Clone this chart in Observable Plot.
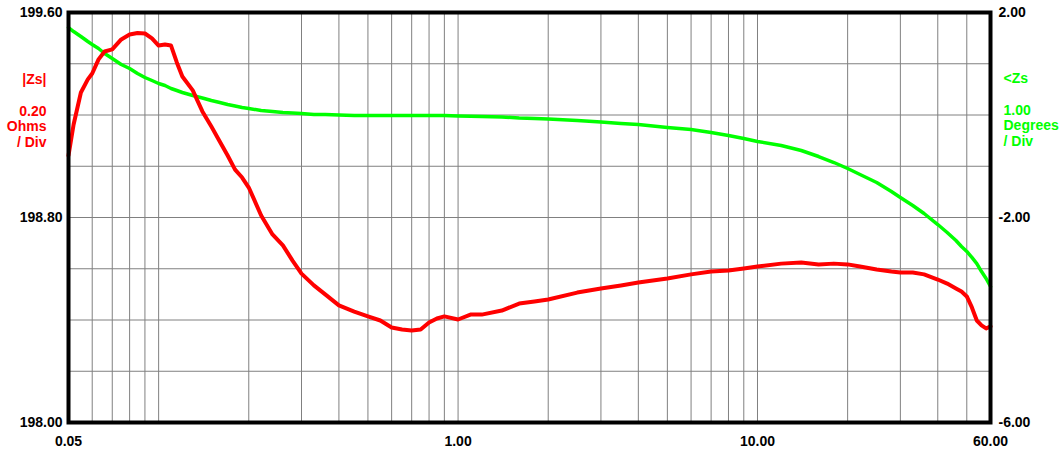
<!DOCTYPE html>
<html>
<head>
<meta charset="utf-8">
<script src="https://cdn.jsdelivr.net/npm/d3@7"></script>
<script src="https://cdn.jsdelivr.net/npm/@observablehq/plot@0.6"></script>
<style>
  html, body { margin: 0; padding: 0; background: #fff; }
  svg { display: block; }
</style>
</head>
<body>
<div id="chart"></div>
<script>
// Frequency points (Hz-axis units as labelled), shared by both traces
const freq = [
  0.05, 0.052, 0.055, 0.058, 0.06, 0.063, 0.066, 0.07, 0.075, 0.08,
  0.085, 0.09, 0.095, 0.1, 0.105, 0.11, 0.115, 0.12, 0.13, 0.14,
  0.15, 0.16, 0.17, 0.18, 0.19, 0.2, 0.22, 0.24, 0.26, 0.28,
  0.3, 0.33, 0.36, 0.4, 0.45, 0.5, 0.55, 0.6, 0.65, 0.7,
  0.75, 0.8, 0.85, 0.9, 1.0, 1.1, 1.2, 1.4, 1.6, 1.8,
  2, 2.5, 3, 3.5, 4, 5, 6, 7, 8, 9,
  10, 12, 14, 16, 18, 20, 22, 25, 28, 30,
  33, 36, 40, 43, 46, 48, 50, 52, 54, 56,
  58, 60
];

// |Zs| magnitude, ohms (left axis)
const zsMag = [
  199.042, 199.163, 199.288, 199.339, 199.362, 199.417, 199.448, 199.456, 199.495, 199.514,
  199.520, 199.518, 199.499, 199.471, 199.475, 199.471, 199.405, 199.350, 199.296, 199.214,
  199.155, 199.097, 199.042, 198.987, 198.956, 198.917, 198.808, 198.734, 198.691, 198.632,
  198.581, 198.535, 198.500, 198.457, 198.433, 198.414, 198.398, 198.371, 198.363, 198.359,
  198.363, 198.390, 198.406, 198.414, 198.402, 198.421, 198.421, 198.437, 198.464, 198.472,
  198.480, 198.507, 198.523, 198.535, 198.546, 198.562, 198.578, 198.589, 198.593, 198.601,
  198.609, 198.620, 198.624, 198.617, 198.620, 198.617, 198.609, 198.597, 198.589, 198.585,
  198.585, 198.578, 198.558, 198.542, 198.523, 198.511, 198.492, 198.449, 198.398, 198.379,
  198.367, 198.375
];

// <Zs phase, degrees (right axis)
const zsPhase = [
  1.707, 1.629, 1.532, 1.434, 1.376, 1.298, 1.200, 1.102, 0.985, 0.907,
  0.810, 0.732, 0.673, 0.615, 0.576, 0.517, 0.478, 0.439, 0.380, 0.332,
  0.283, 0.244, 0.205, 0.176, 0.146, 0.127, 0.088, 0.068, 0.049, 0.039,
  0.029, 0.010, 0.010, 0.000, -0.010, -0.010, -0.010, -0.010, -0.010, -0.010,
  -0.010, -0.010, -0.010, -0.010, -0.020, -0.025, -0.029, -0.039, -0.059, -0.068,
  -0.078, -0.107, -0.137, -0.166, -0.185, -0.244, -0.283, -0.341, -0.400, -0.459,
  -0.517, -0.595, -0.693, -0.810, -0.927, -1.044, -1.161, -1.317, -1.493, -1.610,
  -1.766, -1.922, -2.137, -2.293, -2.449, -2.566, -2.663, -2.780, -2.898, -3.054,
  -3.190, -3.346
];

// Axis extents and labelled ticks
const magDomain = [198.0, 199.6];
const phaseDomain = [-6, 2];
const freqDomain = [0.05, 60];
const magTicks = [198.0, 198.8, 199.6];
const phaseTicks = [-6, -2, 2];
const freqTicks = [0.05, 1, 10, 60];

// Grid: every 0.20 ohm, and every log-decade minor step
const magGrid = [198.2, 198.4, 198.6, 198.8, 199.0, 199.2, 199.4];
const freqGrid = [
  0.06, 0.07, 0.08, 0.09, 0.1, 0.2, 0.3, 0.4, 0.5, 0.6, 0.7, 0.8, 0.9,
  1, 2, 3, 4, 5, 6, 7, 8, 9, 10, 20, 30, 40, 50
];

const magLabel = "|Zs|\n\n0.20\nOhms\n/ Div";
const phaseLabel = "<Zs\n\n1.00\nDegrees\n/ Div";

// Phase shares the plot's y scale: map degrees onto the ohm range
const phaseToMag = d =>
  magDomain[0] + (d - phaseDomain[0]) / (phaseDomain[1] - phaseDomain[0]) * (magDomain[1] - magDomain[0]);

const rows = freq.map((f, i) => ({f, mag: zsMag[i], phase: zsPhase[i]}));

const RED = "#ff0000";
const GREEN = "#00ff00";
const GRID = "#808080";
const font = {fontSize: 14, fontWeight: "bold"};

const chart = Plot.plot({
  width: 1062,
  height: 454,
  marginLeft: 68,
  marginRight: 72,
  marginTop: 12,
  marginBottom: 32,
  style: {fontFamily: "'Liberation Sans', Arial, sans-serif", background: "#fff", overflow: "visible"},
  x: {type: "log", domain: freqDomain, axis: null},
  y: {domain: magDomain, axis: null},
  marks: [
    Plot.ruleX(freqGrid, {stroke: GRID, strokeWidth: 1, strokeOpacity: 1}),
    Plot.ruleY(magGrid, {stroke: GRID, strokeWidth: 1, strokeOpacity: 1}),
    Plot.line(rows, {x: "f", y: d => phaseToMag(d.phase), stroke: GREEN, strokeWidth: 3.5}),
    Plot.line(rows, {x: "f", y: "mag", stroke: RED, strokeWidth: 4}),
    Plot.frame({stroke: "#000", strokeWidth: 4}),
    // left scale labels (ohms)
    Plot.text(magTicks, {
      y: d => d, frameAnchor: "left", dx: -6, textAnchor: "end",
      text: d => d.toFixed(2), fill: "#000", ...font
    }),
    // right scale labels (degrees)
    Plot.text(phaseTicks, {
      y: d => phaseToMag(d), frameAnchor: "right", dx: 8, textAnchor: "start",
      text: d => d.toFixed(2), fill: "#000", ...font
    }),
    // frequency labels
    Plot.text(freqTicks, {
      x: d => d, frameAnchor: "bottom", dy: 19, lineAnchor: "middle",
      text: d => d.toFixed(2), fill: "#000", ...font
    }),
    Plot.text([magLabel], {
      frameAnchor: "top-left", dx: -22, dy: 98, textAnchor: "end",
      lineAnchor: "middle", lineHeight: 1.12, fill: RED, ...font
    }),
    Plot.text([phaseLabel], {
      frameAnchor: "top-right", dx: 13, dy: 97, textAnchor: "start",
      lineAnchor: "middle", lineHeight: 1.12, fill: GREEN, ...font
    })
  ]
});

document.getElementById("chart").append(chart);
</script>
</body>
</html>
